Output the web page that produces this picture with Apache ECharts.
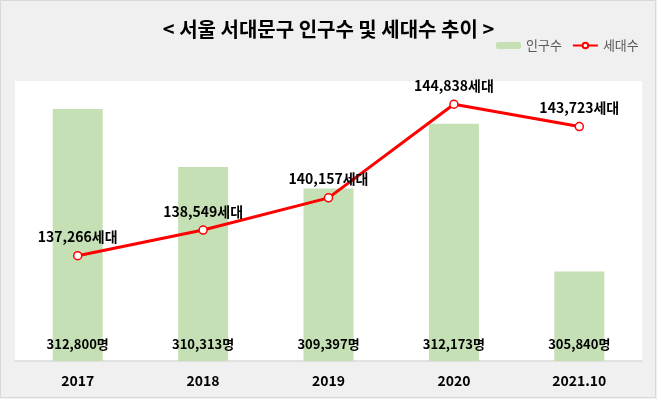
<!DOCTYPE html>
<html>
<head>
<meta charset="utf-8">
<script src="https://cdn.jsdelivr.net/npm/echarts@6/dist/echarts.min.js"></script>
<style>
  html, body { margin: 0; padding: 0; background: #f0f0f0; }
  #chart { width: 657px; height: 399px; }
</style>
</head>
<body>
<div id="chart"></div>
<script>
// 연도
const years = ['2017', '2018', '2019', '2020', '2021.10']
// 인구수 (명)
const population = [312800, 310313, 309397, 312173, 305840]
// 세대수 (세대)
const households = [137266, 138549, 140157, 144838, 143723]

const fontFamily = '"Noto Sans CJK KR", "Noto Sans", sans-serif'

function comma(v) {
  return String(v).replace(/\B(?=(\d{3})+(?!\d))/g, ',')
}

const chart = echarts.init(document.getElementById('chart'))

chart.setOption({
  backgroundColor: '#f0f0f0',
  textStyle: { fontFamily: fontFamily },
  animation: false,
  graphic: [
    {
      type: 'rect',
      shape: { x: 0.5, y: 0.5, width: 655, height: 397 },
      style: { fill: 'none', stroke: '#d9d9d9', lineWidth: 1 },
      z: 100
    }
  ],
  title: {
    text: '< 서울 서대문구 인구수 및 세대수 추이 >',
    left: 'center',
    top: 14,
    textStyle: {
      fontFamily: fontFamily,
      fontSize: 20,
      fontWeight: 'bold',
      color: '#000'
    }
  },
  legend: {
    left: 491,
    top: 34,
    itemWidth: 25,
    itemHeight: 7,
    itemGap: 10,
    textStyle: { fontFamily: fontFamily, fontSize: 13, color: '#595959' },
    data: ['인구수', '세대수']
  },
  grid: {
    show: true,
    backgroundColor: '#fff',
    borderWidth: 0,
    left: 15,
    right: 15,
    top: 81,
    bottom: 38
  },
  xAxis: {
    type: 'category',
    data: years,
    axisLine: { lineStyle: { color: '#d9d9d9', width: 1.5 } },
    axisTick: { show: false },
    axisLabel: {
      margin: 13,
      fontSize: 14,
      fontWeight: 'bold',
      color: '#000',
      fontFamily: fontFamily
    }
  },
  yAxis: [
    {
      type: 'value',
      min: 302000,
      max: 314000,
      interval: 2000,
      show: false,
      splitLine: { show: false }
    },
    {
      type: 'value',
      min: 132000,
      max: 146000,
      interval: 2000,
      show: false,
      splitLine: { show: false }
    }
  ],
  series: [
    {
      name: '인구수',
      type: 'bar',
      yAxisIndex: 0,
      barWidth: 50,
      itemStyle: { color: '#c5e0b4' },
      label: {
        show: true,
        position: 'insideBottom',
        distance: 10,
        fontSize: 13,
        fontWeight: 'bold',
        color: '#000',
        fontFamily: fontFamily,
        formatter: function(p) {
          return comma(p.value) + '명'
        }
      },
      data: population
    },
    {
      name: '세대수',
      type: 'line',
      yAxisIndex: 1,
      symbol: 'circle',
      symbolSize: 8,
      lineStyle: { color: '#ff0000', width: 3 },
      itemStyle: { color: '#fff', borderColor: '#ff0000', borderWidth: 1.5 },
      label: {
        show: true,
        position: 'top',
        distance: 7,
        fontSize: 14,
        fontWeight: 'bold',
        color: '#000',
        fontFamily: fontFamily,
        formatter: function(p) {
          return comma(p.value) + '세대'
        }
      },
      z: 3,
      data: households
    }
  ]
})
</script>
</body>
</html>
